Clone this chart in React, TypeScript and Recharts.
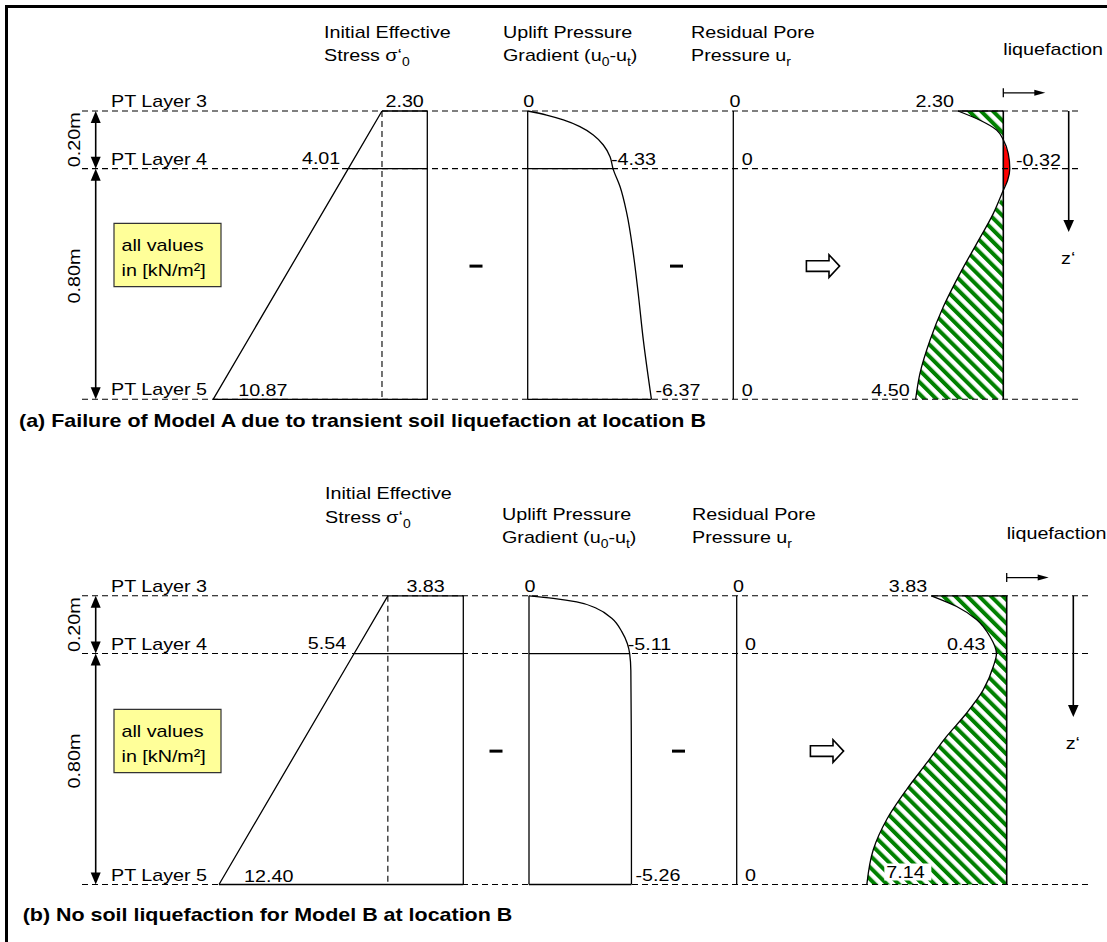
import type { ReactElement } from 'react';
import {
  ComposedChart,
  XAxis,
  YAxis,
  Line,
  Area,
  ReferenceLine,
  ReferenceDot,
  ReferenceArea,
} from 'recharts';

const W = 1107;
const H = 942;
const S = 19.7; // px per kN/m², same on every column
const SX = 1.16; // the source text is drawn a bit wide
const FONT = "'Liberation Sans', Arial, Helvetica, sans-serif";

type Pt = { z: number; v: number };

// depth below PT Layer 3 [m]
const layerDepths = [0, 0.2, 1.0];
const layerNames = ['PT Layer 3', 'PT Layer 4', 'PT Layer 5'];
const spanLabels = ['0.20m', '0.80m'];

// Model A at location B [kN/m²]
const stressA = [2.3, 4.01, 10.87];
const upliftA = [0, -4.33, -6.37];
const residualA = [0, 0, 0];
const resultA = [2.3, -0.32, 4.5];
const upliftCurveA: Pt[] = [
  { z: 0, v: 0 }, { z: 0.014, v: -0.96 }, { z: 0.031, v: -1.81 }, { z: 0.054, v: -2.65 },
  { z: 0.083, v: -3.33 }, { z: 0.118, v: -3.84 }, { z: 0.159, v: -4.18 }, { z: 0.2, v: -4.33 },
  { z: 0.263, v: -4.69 }, { z: 0.355, v: -5.03 }, { z: 0.494, v: -5.36 }, { z: 0.633, v: -5.61 },
  { z: 0.795, v: -5.87 }, { z: 1.0, v: -6.28 },
];
const resultCurveA: Pt[] = [
  { z: 0, v: 2.3 }, { z: 0.032, v: 1.18 }, { z: 0.066, v: 0.34 }, { z: 0.1, v: 0 },
  { z: 0.147, v: -0.25 }, { z: 0.2, v: -0.33 }, { z: 0.24, v: -0.22 }, { z: 0.275, v: 0 },
  { z: 0.356, v: 0.51 }, { z: 0.46, v: 1.35 }, { z: 0.564, v: 2.2 }, { z: 0.68, v: 3.05 },
  { z: 0.795, v: 3.72 }, { z: 0.91, v: 4.23 }, { z: 1.0, v: 4.45 },
];

// Model B at location B [kN/m²]
const stressB = [3.83, 5.54, 12.4];
const upliftB = [0, -5.11, -5.26];
const residualB = [0, 0, 0];
const resultB = [3.83, 0.43, 7.14];
const upliftCurveB: Pt[] = [
  { z: 0, v: 0 }, { z: 0.009, v: -1.23 }, { z: 0.021, v: -2.42 }, { z: 0.044, v: -3.44 },
  { z: 0.078, v: -4.2 }, { z: 0.124, v: -4.71 }, { z: 0.165, v: -4.99 }, { z: 0.2, v: -5.11 },
  { z: 0.26, v: -5.17 }, { z: 0.45, v: -5.19 }, { z: 0.7, v: -5.2 }, { z: 1.0, v: -5.2 },
];
const resultCurveB: Pt[] = [
  { z: 0, v: 3.83 }, { z: 0.037, v: 2.54 }, { z: 0.083, v: 1.52 }, { z: 0.141, v: 0.85 },
  { z: 0.2, v: 0.52 }, { z: 0.245, v: 0.68 }, { z: 0.326, v: 1.19 }, { z: 0.406, v: 2.03 },
  { z: 0.487, v: 3.05 }, { z: 0.579, v: 4.06 }, { z: 0.671, v: 5.08 }, { z: 0.775, v: 6.09 },
  { z: 0.879, v: 6.77 }, { z: 1.0, v: 7.1 },
];

const captions = [
  '(a) Failure of Model A due to transient soil liquefaction at location B',
  '(b) No soil liquefaction for Model B at location B',
];

type Layout = {
  y0: number; y1: number;
  xs: number; xu: number; xr: number; xl: number;
  dashTo: number;
  titleX: number[]; titleY: number[]; sideY: number[];
  minusX: number[]; arrowX: number;
  zArrowX: number; boxY: number;
  captionX: number; captionY: number;
  bottomInside: boolean;
};

const layoutA: Layout = {
  y0: 111, y1: 399.3,
  xs: 427.3, xu: 527.7, xr: 733.3, xl: 1003.3,
  dashTo: 1082,
  titleX: [324, 503, 691], titleY: [37.7, 60.7], sideY: [37.7, 60.7],
  minusX: [476, 676.5], arrowX: 823,
  zArrowX: 1068.7, boxY: 223.3,
  captionX: 19, captionY: 427,
  bottomInside: false,
};

const layoutB: Layout = {
  y0: 595.8, y1: 884.5,
  xs: 463.3, xu: 529, xr: 736.7, xl: 1006.7,
  dashTo: 1088,
  titleX: [325, 502, 692], titleY: [499.3, 522.7], sideY: [520, 543],
  minusX: [496, 678.5], arrowX: 827,
  zArrowX: 1073.3, boxY: 709.3,
  captionX: 22.7, captionY: 921,
  bottomInside: true,
};

const fmt = (v: number) => (v === 0 ? '0' : v.toFixed(2));
const valAt = (c: Pt[], z: number) => (c.find((q) => q.z === z) as Pt).v;

const Txt = ({ x, y, children, anchor = 'start', size = 17, bold = false, rotate = 0 }: any) => (
  <text
    transform={`translate(${x},${y}) rotate(${rotate}) scale(${SX},1)`}
    textAnchor={anchor}
    fontSize={size}
    fontWeight={bold ? 'bold' : 'normal'}
    fontFamily={FONT}
    fill="#000"
  >
    {children}
  </text>
);

const Sub = ({ children }: any) => (
  <tspan fontSize={12} dy={5}>
    {children}
  </tspan>
);

const DimArrow = (p: any) => (
  <g>
    <line x1={p.x1} y1={p.y1 + 8} x2={p.x2} y2={p.y2 - 8} stroke="#000" strokeWidth={1.6} />
    <path d={`M${p.x1},${p.y1} l-5,12 h10 z`} fill="#000" />
    <path d={`M${p.x2},${p.y2} l-5,-12 h10 z`} fill="#000" />
  </g>
);

const DownArrow = (p: any) => (
  <g>
    <line x1={p.x1} y1={p.y1} x2={p.x2} y2={p.y2 - 8} stroke="#000" strokeWidth={1.6} />
    <path d={`M${p.x2},${p.y2} l-5.3,-12 h10.6 z`} fill="#000" />
  </g>
);

const LiqArrow = (cx: number, cy: number) => (
  <g>
    <line x1={cx} y1={cy - 4.5} x2={cx} y2={cy + 4.5} stroke="#000" strokeWidth={1.3} />
    <line x1={cx} y1={cy} x2={cx + 33} y2={cy} stroke="#000" strokeWidth={1.3} />
    <path d={`M${cx + 42},${cy} l-11,-3 v6 z`} fill="#000" />
  </g>
);

const HollowArrow = (cx: number, cy: number) => (
  <path
    d={`M${cx - 16.6},${cy - 5.3} H${cx + 6} V${cy - 11.3} L${cx + 16.6},${cy} L${cx + 6},${cy + 11.3} V${cy + 5.3} H${cx - 16.6} Z`}
    fill="#fff"
    stroke="#000"
    strokeWidth={1.6}
  />
);

const Minus = (cx: number, cy: number) => (
  <rect x={cx - 6.5} y={cy - 1.5} width={13} height={3} fill="#000" />
);

function panel(
  id: string,
  L: Layout,
  d: { stress: number[]; uplift: number[]; residual: number[]; result: number[]; upC: Pt[]; resC: Pt[] },
  caption: string,
) {
  const zId = id + 'z';
  const sId = id + 's';
  const uId = id + 'u';
  const rId = id + 'r';
  const lId = id + 'l';
  const out: ReactElement[] = [];
  let n = 0;
  const key = () => `${id}-${n++}`;
  const [z0, z1, z2] = layerDepths;
  const zSpan = L.y1 - L.y0;
  // page y of a label -> depth units of this panel
  const zOf = (y: number) => (y - L.y0) / zSpan;

  const dot = (xId: string, x: number, y: number, draw: (cx: number, cy: number) => ReactElement) =>
    out.push(
      <ReferenceDot
        key={key()}
        xAxisId={xId}
        yAxisId={zId}
        x={x}
        y={y}
        r={0}
        ifOverflow="visible"
        shape={(p: any) => draw(p.cx, p.cy)}
      />,
    );
  const seg = (xId: string, a: number[], b: number[], extra: any = {}) =>
    out.push(
      <ReferenceLine
        key={key()}
        xAxisId={xId}
        yAxisId={zId}
        segment={[{ x: a[0], y: a[1] }, { x: b[0], y: b[1] }]}
        stroke="#000"
        strokeWidth={1.3}
        ifOverflow="visible"
        {...extra}
      />,
    );
  const dashed = { strokeDasharray: '6 4', strokeWidth: 1.1 };

  // axes: depth axis and one value axis per column (values grow to the left)
  out.push(
    <YAxis key={key()} yAxisId={zId} type="number" dataKey="z" hide allowDataOverflow
      domain={[-L.y0 / zSpan, (H - L.y0) / zSpan]} />,
  );
  ([[sId, L.xs], [uId, L.xu], [rId, L.xr], [lId, L.xl]] as [string, number][]).forEach(([aid, x0]) =>
    out.push(
      <XAxis key={key()} xAxisId={aid} type="number" hide reversed allowDataOverflow
        domain={[(x0 - W) / S, x0 / S]} />,
    ),
  );

  // result fills under everything else
  out.push(
    <Area key={key()} xAxisId={lId} yAxisId={zId} data={d.resC} dataKey={(q: Pt) => Math.max(q.v, 0)}
      baseValue={0} type="monotone" stroke="none" fill="url(#hatch)" fillOpacity={1}
      isAnimationActive={false} />,
  );
  if (d.resC.some((q) => q.v < 0)) {
    out.push(
      <Area key={key()} xAxisId={lId} yAxisId={zId} data={d.resC} dataKey={(q: Pt) => Math.min(q.v, 0)}
        baseValue={0} type="monotone" stroke="none" fill="#ff0000" fillOpacity={1}
        isAnimationActive={false} />,
    );
  }

  // titles
  dot('fx', L.titleX[0], zOf(L.titleY[0]), (cx, cy) => <Txt x={cx} y={cy}>Initial Effective</Txt>);
  dot('fx', L.titleX[0], zOf(L.titleY[1]), (cx, cy) => (
    <Txt x={cx} y={cy}>Stress σ‘<Sub>0</Sub></Txt>
  ));
  dot('fx', L.titleX[1], zOf(L.sideY[0]), (cx, cy) => <Txt x={cx} y={cy}>Uplift Pressure</Txt>);
  dot('fx', L.titleX[1], zOf(L.sideY[1]), (cx, cy) => (
    <Txt x={cx} y={cy}>
      Gradient (u<Sub>0</Sub><tspan dy={-5}>-u</tspan><Sub>t</Sub><tspan dy={-5}>)</tspan>
    </Txt>
  ));
  dot('fx', L.titleX[2], zOf(L.sideY[0]), (cx, cy) => <Txt x={cx} y={cy}>Residual Pore</Txt>);
  dot('fx', L.titleX[2], zOf(L.sideY[1]), (cx, cy) => (
    <Txt x={cx} y={cy}>Pressure u<Sub>r</Sub></Txt>
  ));

  // layer boundaries, names and depth dimensions
  layerDepths.forEach((z, i) => {
    seg('fx', [82, z], [L.dashTo, z], dashed);
    dot('fx', 111, z, (cx, cy) => <Txt x={cx} y={cy - 4}>{layerNames[i]}</Txt>);
  });
  for (let i = 0; i < 2; i++) {
    seg('fx', [95.7, layerDepths[i]], [95.7, layerDepths[i + 1]], { shape: DimArrow });
    dot('fx', 79.5, (layerDepths[i] + layerDepths[i + 1]) / 2, (cx, cy) => (
      <Txt x={cx} y={cy - (i ? 8 : 0)} anchor="middle" rotate={-90}>{spanLabels[i]}</Txt>
    ));
  }

  // yellow note
  out.push(
    <ReferenceArea key={key()} xAxisId="fx" yAxisId={zId} x1={114} x2={221}
      y1={zOf(L.boxY)} y2={zOf(L.boxY + 63.3)}
      fill="#ffff99" fillOpacity={1} stroke="#333" strokeWidth={1.2} ifOverflow="visible" />,
  );
  dot('fx', 121.5, zOf(L.boxY + 27.5), (cx, cy) => <Txt x={cx} y={cy}>all values</Txt>);
  dot('fx', 121.5, zOf(L.boxY + 52.6), (cx, cy) => <Txt x={cx} y={cy}>in [kN/m²]</Txt>);

  // initial effective stress
  const sPts = layerDepths.map((z, i) => ({ z, v: d.stress[i] }));
  out.push(
    <Line key={key()} xAxisId={sId} yAxisId={zId} data={sPts} dataKey="v" type="linear"
      stroke="#000" strokeWidth={1.3} dot={false} isAnimationActive={false} />,
  );
  seg(sId, [0, z0], [0, z2]);
  sPts.forEach((q) => seg(sId, [q.v, q.z], [0, q.z]));
  seg(sId, [d.stress[0], z0], [d.stress[0], z2], dashed);
  dot(sId, d.stress[0] / 2, z0, (cx, cy) => <Txt x={cx} y={cy - 4} anchor="middle">{fmt(d.stress[0])}</Txt>);
  dot(sId, d.stress[1], z1, (cx, cy) => <Txt x={cx - 8} y={cy - 4.5} anchor="end">{fmt(d.stress[1])}</Txt>);
  dot(sId, d.stress[2], z2, (cx, cy) => <Txt x={cx + 25} y={cy - 3}>{fmt(d.stress[2])}</Txt>);

  // uplift pressure gradient
  out.push(
    <Line key={key()} xAxisId={uId} yAxisId={zId} data={d.upC} dataKey="v" type="monotone"
      stroke="#000" strokeWidth={1.3} dot={false} isAnimationActive={false} />,
  );
  seg(uId, [0, z0], [0, z2]);
  seg(uId, [valAt(d.upC, z1), z1], [0, z1]);
  seg(uId, [valAt(d.upC, z2), z2], [0, z2]);
  dot(uId, 0, z0, (cx, cy) => <Txt x={cx + 1} y={cy - 4.3} anchor="middle">{fmt(d.uplift[0])}</Txt>);
  dot(uId, valAt(d.upC, z1), z1, (cx, cy) => <Txt x={cx - 2} y={cy - 3.7}>{fmt(d.uplift[1])}</Txt>);
  dot(uId, valAt(d.upC, z2), z2, (cx, cy) => <Txt x={cx + 4} y={cy - 3.3}>{fmt(d.uplift[2])}</Txt>);

  // residual pore pressure
  seg(rId, [0, z0], [0, z2]);
  dot(rId, 0, z0, (cx, cy) => <Txt x={cx + 1.7} y={cy - 4.3} anchor="middle">{fmt(d.residual[0])}</Txt>);
  dot(rId, 0, z1, (cx, cy) => <Txt x={cx + 8.4} y={cy - 3.7}>{fmt(d.residual[1])}</Txt>);
  dot(rId, 0, z2, (cx, cy) => <Txt x={cx + 8.4} y={cy - 3.3}>{fmt(d.residual[2])}</Txt>);

  // operators between the columns
  dot('fx', L.minusX[0], 0.538, Minus);
  dot('fx', L.minusX[1], 0.538, Minus);
  dot('fx', L.arrowX, 0.538, HollowArrow);

  // resulting effective stress
  out.push(
    <Line key={key()} xAxisId={lId} yAxisId={zId} data={d.resC} dataKey="v" type="monotone"
      stroke="#000" strokeWidth={1.3} dot={false} isAnimationActive={false} />,
  );
  seg(lId, [0, z0], [0, z2], { strokeWidth: 1.6 });
  seg(lId, [d.resC[0].v, z0], [0, z0]);
  dot(lId, d.resC[0].v, z0, (cx, cy) => <Txt x={cx - 4} y={cy - 4} anchor="end">{fmt(d.result[0])}</Txt>);
  if (d.result[1] < 0) {
    dot(lId, 0, z1, (cx, cy) => <Txt x={cx + 12.7} y={cy - 3}>{fmt(d.result[1])}</Txt>);
  } else {
    dot(lId, valAt(d.resC, z1), z1, (cx, cy) => <Txt x={cx - 11} y={cy - 3.4} anchor="end">{fmt(d.result[1])}</Txt>);
  }
  if (L.bottomInside) {
    dot(lId, valAt(d.resC, z2), z2, (cx, cy) => (
      <g>
        <rect x={cx + 17.5} y={cy - 21} width={47} height={17} fill="#fff" />
        <Txt x={cx + 19.4} y={cy - 6.2}>{fmt(d.result[2])}</Txt>
      </g>
    ));
  } else {
    dot(lId, valAt(d.resC, z2), z2, (cx, cy) => <Txt x={cx - 6} y={cy - 3.6} anchor="end">{fmt(d.result[2])}</Txt>);
  }
  dot(lId, 0, z0, (cx, cy) => <Txt x={cx} y={cy - 56.5}>liquefaction</Txt>);
  dot(lId, 0, -0.063, LiqArrow);
  seg('fx', [L.zArrowX, z0], [L.zArrowX, 0.42], { shape: DownArrow });
  dot('fx', L.zArrowX, 0.42, (cx, cy) => <Txt x={cx - 0.5} y={cy + 32} anchor="middle">z‘</Txt>);

  // caption
  dot('fx', L.captionX, zOf(L.captionY), (cx, cy) => (
    <Txt x={cx} y={cy} size={18.5} bold>{caption}</Txt>
  ));

  return out;
}

export default function App() {
  return (
    <div style={{ position: 'relative', width: W, height: H, overflow: 'hidden', background: '#fff' }}>
      <style>{'body{margin:0}'}</style>
      <div
        style={{
          position: 'absolute', left: 5, top: 5, right: -10, bottom: -10,
          borderTop: '3px solid #000', borderLeft: '3px solid #000',
        }}
      />
      <div style={{ position: 'absolute', left: 0, top: 0 }}>
        <ComposedChart width={W} height={H} layout="vertical" margin={{ top: 0, right: 0, bottom: 0, left: 0 }}>
          <defs>
            <pattern id="hatch" patternUnits="userSpaceOnUse" width={8.4} height={8.4} patternTransform="rotate(-45)">
              <rect width={8.4} height={8.4} fill="#fff" />
              <rect width={4} height={8.4} fill="#008000" />
            </pattern>
          </defs>
          <XAxis xAxisId="fx" type="number" hide allowDataOverflow domain={[0, W]} />
          {panel('A', layoutA, { stress: stressA, uplift: upliftA, residual: residualA, result: resultA, upC: upliftCurveA, resC: resultCurveA }, captions[0])}
          {panel('B', layoutB, { stress: stressB, uplift: upliftB, residual: residualB, result: resultB, upC: upliftCurveB, resC: resultCurveB }, captions[1])}
        </ComposedChart>
      </div>
    </div>
  );
}
